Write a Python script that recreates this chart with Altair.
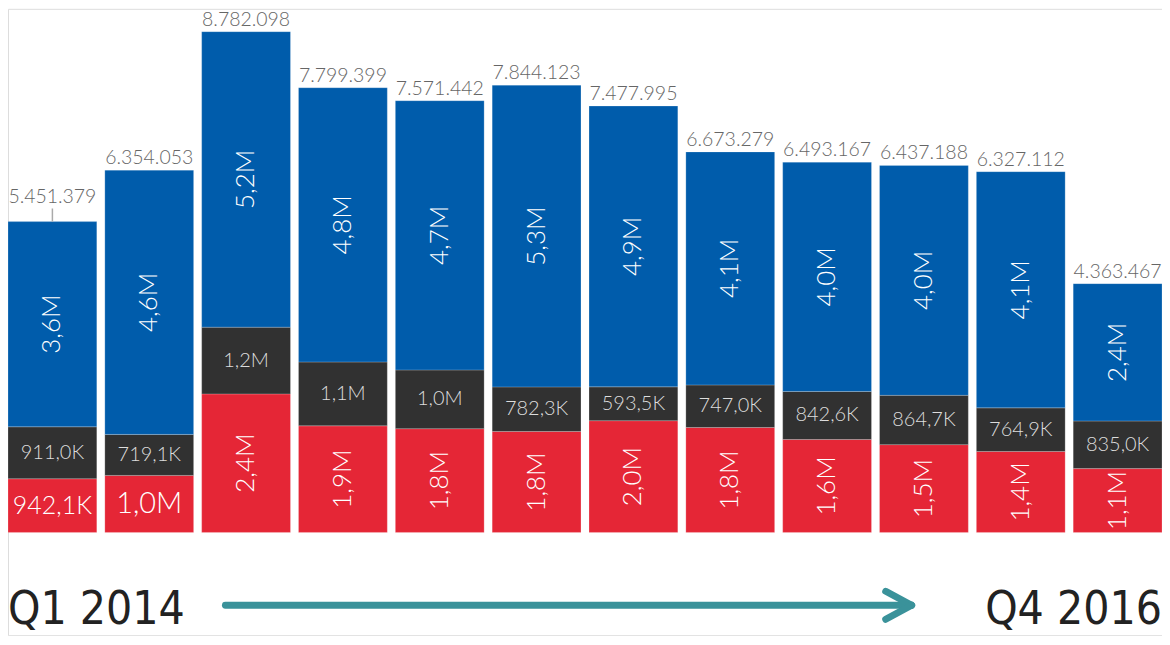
import altair as alt
import pandas as pd

quarters = ["Q1 2014", "Q2 2014", "Q3 2014", "Q4 2014", "Q1 2015", "Q2 2015",
            "Q3 2015", "Q4 2015", "Q1 2016", "Q2 2016", "Q3 2016", "Q4 2016"]
totals = [5451379, 6354053, 8782098, 7799399, 7571442, 7844123,
          7477995, 6673279, 6493167, 6437188, 6327112, 4363467]
red_vals = [942100, 1000000, 2430000, 1870000, 1820000, 1770000,
            1960000, 1840000, 1630000, 1540000, 1420000, 1120000]
dark_vals = [911000, 719100, 1170000, 1120000, 1030000, 782300,
             593500, 747000, 842600, 864700, 764900, 835000]
red_labels = ["942,1K", "1,0M", "2,4M", "1,9M", "1,8M", "1,8M",
              "2,0M", "1,8M", "1,6M", "1,5M", "1,4M", "1,1M"]
dark_labels = ["911,0K", "719,1K", "1,2M", "1,1M", "1,0M", "782,3K",
               "593,5K", "747,0K", "842,6K", "864,7K", "764,9K", "835,0K"]
blue_labels = ["3,6M", "4,6M", "5,2M", "4,8M", "4,7M", "5,3M",
               "4,9M", "4,1M", "4,0M", "4,0M", "4,1M", "2,4M"]
leader = [230000, 0, 0, 0, 0, 0, 0, 0, 0, 0, 0, 0]
start_label = "Q1 2014"
end_label = "Q4 2016"

RED = "#e52636"
DARK = "#313131"
BLUE = "#005cab"
TEAL = "#3a929a"
FONT = "Lato"
BIGFONT = "Liberation Sans Narrow, DejaVu Sans Condensed, sans-serif"

red_h_sizes = [25, 29]

rows = []
for i, q in enumerate(quarters):
    r, d, t = red_vals[i], dark_vals[i], totals[i]
    rows.append(dict(q=q, seg="red", y0=0, y1=r, lab=red_labels[i],
                     ang=0 if i < 2 else 270,
                     fs=red_h_sizes[i] if i < 2 else 26, col="#ffffff"))
    rows.append(dict(q=q, seg="dark", y0=r, y1=r + d, lab=dark_labels[i],
                     ang=0, fs=20, col="#dddddd"))
    rows.append(dict(q=q, seg="blue", y0=r + d, y1=t, lab=blue_labels[i],
                     ang=270, fs=26, col="#ffffff"))
df = pd.DataFrame(rows)
df["mid"] = (df["y0"] + df["y1"]) / 2

tot = pd.DataFrame({
    "q": quarters,
    "total": totals,
    "top": [t + l for t, l in zip(totals, leader)],
    "lead": leader,
    "txt": [f"{t:,}".replace(",", ".") for t in totals],
})

xenc = alt.X("q:N", sort=quarters, axis=None,
             scale=alt.Scale(paddingInner=0.083, paddingOuter=0))
yscale = alt.Scale(domain=[-1801700, 9183100], nice=False, zero=False)

bars = alt.Chart(df).mark_bar(stroke="#ffffff", strokeWidth=0.6, strokeOpacity=0.35).encode(
    x=xenc,
    y=alt.Y("y0:Q", scale=yscale, axis=None),
    y2="y1:Q",
    color=alt.Color("seg:N", scale=alt.Scale(domain=["red", "dark", "blue"],
                                             range=[RED, DARK, BLUE]), legend=None),
)

seg_text = alt.Chart(df).mark_text(font=FONT, fontWeight=300, align="center",
                                   baseline="middle").encode(
    x=xenc,
    y=alt.Y("mid:Q", scale=yscale, axis=None),
    text="lab:N",
    angle=alt.Angle("ang:Q", scale=None),
    size=alt.Size("fs:Q", scale=None, legend=None),
    color=alt.Color("col:N", scale=None),
)

tot_text = alt.Chart(tot).mark_text(font=FONT, fontWeight=300, fontSize=19.5,
                                    color="#666666", baseline="alphabetic", dy=-6).encode(
    x=xenc,
    y=alt.Y("top:Q", scale=yscale, axis=None),
    text="txt:N",
)

lead_rule = alt.Chart(tot).transform_filter("datum.lead > 0").mark_rule(
    color="#aaaaaa", strokeWidth=1.5).encode(
    x=xenc,
    y=alt.Y("total:Q", scale=yscale, axis=None),
    y2="top:Q",
)

deco = pd.DataFrame({"s": [start_label], "e": [end_label]})
start_t = alt.Chart(deco).mark_text(font=BIGFONT, fontSize=46,
                                    align="left", baseline="bottom",
                                    color="#222222").encode(
    x=alt.value(0), y=alt.value(627), text="s:N")
end_t = alt.Chart(deco).mark_text(font=BIGFONT, fontSize=46,
                                  align="right", baseline="bottom",
                                  color="#222222").encode(
    x=alt.value(1157), y=alt.value(627), text="e:N")

shaft = alt.Chart(deco).mark_rule(color=TEAL, strokeWidth=7, strokeCap="round").encode(
    x=alt.value(218), x2=alt.value(905), y=alt.value(598))
arm1 = alt.Chart(deco).mark_rule(color=TEAL, strokeWidth=7, strokeCap="round").encode(
    x=alt.value(880), x2=alt.value(906), y=alt.value(584), y2=alt.value(598))
arm2 = alt.Chart(deco).mark_rule(color=TEAL, strokeWidth=7, strokeCap="round").encode(
    x=alt.value(880), x2=alt.value(906), y=alt.value(612), y2=alt.value(598))

chart = alt.layer(bars, seg_text, tot_text, lead_rule, start_t, end_t, shaft, arm1, arm2).properties(
    width=1157, height=628,
    autosize=alt.AutoSizeParams(type="none"),
    padding=0,
).configure_view(strokeWidth=0, stroke="transparent").configure(background="#ffffff")

chart.save("out.html", embed_options={"renderer": "svg", "actions": False})
